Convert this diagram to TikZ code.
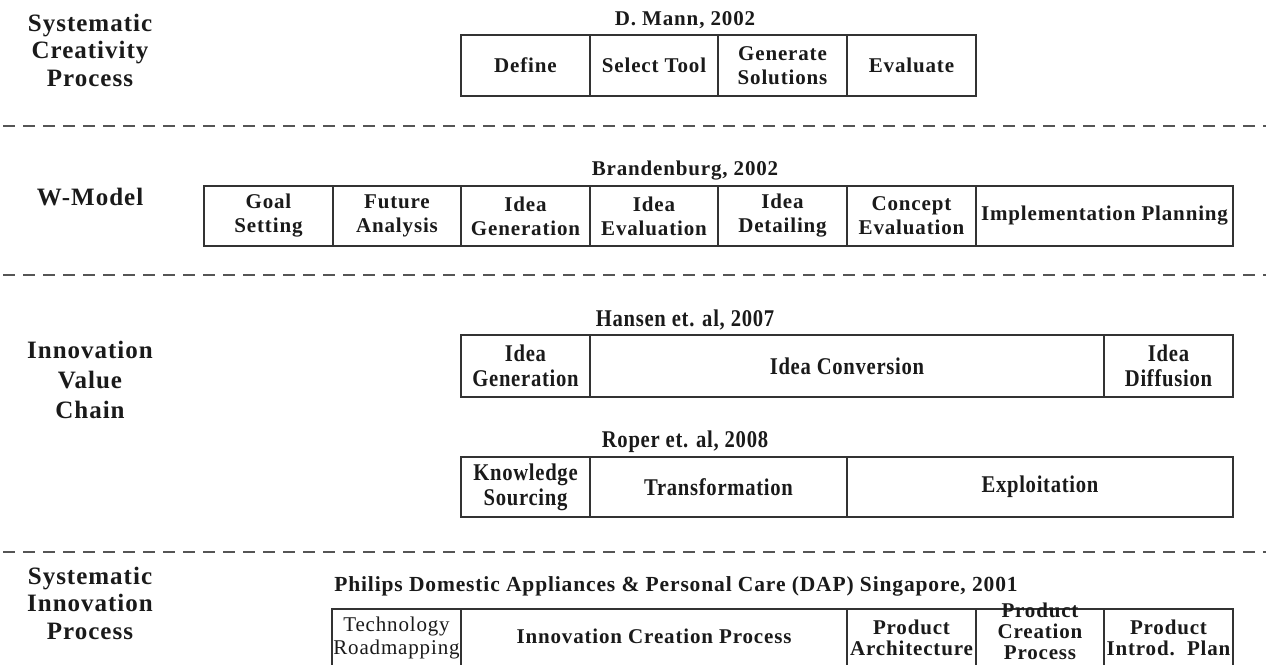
\documentclass[tikz,border=0pt]{standalone}
\usepackage{fontspec}
\setmainfont{Liberation Serif}
\newfontfamily\bx{Liberation Serif}[LetterSpace=4]
\newfontfamily\cond{Liberation Serif}[FakeStretch=0.86,LetterSpace=3]
\definecolor{ink}{HTML}{1A1A1A}
\definecolor{frame}{HTML}{333333}
\definecolor{dash}{HTML}{555555}
\tikzset{
  cell/.style={draw=frame, line width=1.8pt, rectangle, inner sep=0pt, align=center, text=ink,
    font=\bx\bfseries\fontsize{21}{24}\selectfont},
  ccell/.style={cell, font=\cond\bfseries\fontsize{24}{25}\selectfont},
  bcell/.style={draw=frame, line width=1.8pt, rectangle, inner sep=0pt},
  btext/.style={inner sep=0pt, align=center, text=ink, font=\bx\bfseries\fontsize{21}{21}\selectfont},
  hdr/.style={inner sep=0pt, text=ink, font=\bx\bfseries\fontsize{21}{24}\selectfont},
  chdr/.style={inner sep=0pt, text=ink, font=\cond\bfseries\fontsize{24}{25}\selectfont},
  lbl/.style={inner sep=0pt, align=center, text=ink, font=\bx\bfseries\fontsize{25}{27.5}\selectfont},
  dashline/.style={draw=dash, line width=1.8pt, dash pattern=on 12pt off 8pt}
}
\begin{document}
\begin{tikzpicture}[x=1pt,y=-1pt]
\useasboundingbox (0,0) rectangle (1269,664);
\fill[white] (0,0) rectangle (1269,664);

% separators
\coordinate (s1l) at (3,126);  \coordinate (s1r) at (1266,126);
\coordinate (s2l) at (3,275);  \coordinate (s2r) at (1266,275);
\coordinate (s3l) at (3,552);  \coordinate (s3r) at (1266,552);
\draw[dashline] (s1l) -- (s1r);
\draw[dashline] (s2l) -- (s2r);
\draw[dashline] (s3l) -- (s3r);

% section 1
\node[lbl] (lab1) at (90,50) {Systematic\\Creativity\\Process};
\node[hdr] (hm) at (685,20) {D. Mann, 2002};
\node[cell, minimum width=129pt, minimum height=61pt] (m1) at (525.5,65.5) {Define};
\node[cell, minimum width=128pt, minimum height=61pt] (m2) at (654,65.5) {Select Tool};
\node[cell, minimum width=129pt, minimum height=61pt] (m3) at (782.5,65.5) {Generate\\Solutions};
\node[cell, minimum width=129pt, minimum height=61pt] (m4) at (911.5,65.5) {Evaluate};

% section 2
\node[lbl] (lab2) at (90,197) {W-Model};
\node[hdr] (hb) at (685,171) {Brandenburg, 2002};
\node[cell, minimum width=129pt, minimum height=60pt] (w1) at (268.5,216) {Goal\\Setting};
\node[cell, minimum width=128pt, minimum height=60pt] (w2) at (397,216) {Future\\Analysis};
\node[cell, minimum width=129pt, minimum height=60pt] (w3) at (525.5,216) {Idea\\Generation};
\node[cell, minimum width=128pt, minimum height=60pt] (w4) at (654,216) {Idea\\Evaluation};
\node[cell, minimum width=129pt, minimum height=60pt] (w5) at (782.5,216) {Idea\\Detailing};
\node[cell, minimum width=129pt, minimum height=60pt] (w6) at (911.5,216) {Concept\\Evaluation};
\node[cell, minimum width=257pt, minimum height=60pt] (w7) at (1104.5,216) {Implementation Planning};

% section 3
\node[lbl, font=\bx\bfseries\fontsize{25}{30}\selectfont] (lab3) at (90,380) {Innovation\\Value\\Chain};
\node[chdr] (hh) at (685,320) {Hansen et. al, 2007};
\node[ccell, minimum width=129pt, minimum height=62pt] (h1) at (525.5,366) {Idea\\Generation};
\node[ccell, minimum width=514pt, minimum height=62pt] (h2) at (847,366) {Idea Conversion};
\node[ccell, minimum width=129pt, minimum height=62pt] (h3) at (1168.5,366) {Idea\\Diffusion};
\node[chdr] (hr) at (685,442) {Roper et. al, 2008};
\node[ccell, minimum width=129pt, minimum height=60pt] (r1) at (525.5,487) {Knowledge\\Sourcing};
\node[ccell, minimum width=257pt, minimum height=60pt] (r2) at (718.5,487) {Transformation};
\node[ccell, minimum width=386pt, minimum height=60pt] (r3) at (1040,487) {Exploitation};

% section 4
\node[lbl] (lab4) at (90,603) {Systematic\\Innovation\\Process};
\node[hdr, font=\bx\bfseries\fontsize{21.5}{24}\selectfont] (hp) at (676,586) {Philips Domestic Appliances \& Personal Care (DAP) Singapore, 2001};
\begin{scope}
\clip (0,0) rectangle (1269,664);
\node[bcell, minimum width=129pt, minimum height=111pt] (p1) at (396.5,664.5) {};
\node[bcell, minimum width=386pt, minimum height=111pt] (p2) at (654,664.5) {};
\node[bcell, minimum width=129pt, minimum height=111pt] (p3) at (911.5,664.5) {};
\node[bcell, minimum width=128pt, minimum height=111pt] (p4) at (1040,664.5) {};
\node[bcell, minimum width=129pt, minimum height=111pt] (p5) at (1168.5,664.5) {};
\end{scope}
\node[btext, font=\bx\fontsize{21}{22.5}\selectfont] (t1) at ([yshift=-30pt]p1.north) {Technology\\Roadmapping};
\node[btext] (t2) at ([yshift=-28pt]p2.north) {Innovation Creation Process};
\node[btext] (t3) at ([yshift=-30pt]p3.north) {Product\\Architecture};
\node[btext] (t4) at ([yshift=-23pt]p4.north) {Product\\Creation\\Process};
\node[btext] (t5) at ([yshift=-30pt]p5.north) {Product\\Introd.\ \ Plan};
\end{tikzpicture}
\end{document}
